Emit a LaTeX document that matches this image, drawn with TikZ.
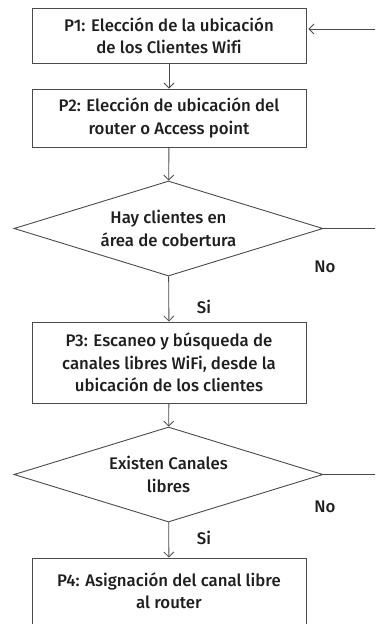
\documentclass[tikz,border=0pt]{standalone}
\usepackage{fontspec}
\setmainfont{Fira Sans Medium}[Ligatures={NoCommon}]
\usetikzlibrary{arrows.meta,shapes.geometric}
\definecolor{ln}{HTML}{4A4A4A}
\definecolor{tx}{HTML}{1E1E1E}
\tikzset{
  stepbox/.style={draw=ln,line width=0.9pt,rectangle,minimum width=274pt,align=center,inner sep=0pt,text=tx,font=\fontsize{16.8}{22.5}\selectfont},
  decision/.style={draw=ln,line width=0.9pt,diamond,aspect=3.25,minimum width=309pt,minimum height=95pt,inner sep=0pt,align=center,text=tx,font=\fontsize{16.8}{22.5}\selectfont},
  flow/.style={draw=ln,line width=0.9pt,-{Straight Barb[length=5pt,width=10pt,line width=0.8pt]}},
  plain/.style={draw=ln,line width=0.9pt},
  lab/.style={text=tx,font=\fontsize{16.8}{18}\selectfont,inner sep=0pt}
}
\begin{document}
\begin{tikzpicture}[x=1pt,y=-1pt]
\useasboundingbox (0,0) rectangle (375,624);
\clip (0,0) rectangle (375,624);
\node[stepbox,minimum height=55pt] (p1) at (169,35.5) {P1: Elección de la ubicación\\de los Clientes Wifi};
\node[stepbox,minimum height=58pt] (p2) at (169,118) {P2: Elección de ubicación del\\router o Access point};
\node[decision] (d1) at (168.5,228.5) {Hay clientes en\\área de cobertura};
\node[stepbox,minimum height=81pt] (p3) at (169,362.5) {P3: Escaneo y búsqueda de\\canales libres WiFi, desde la\\ubicación de los clientes};
\node[decision] (d2) at (168.5,474.5) {Existen Canales\\libres};
\node[stepbox,minimum height=78pt] (p4) at (169,597) {P4: Asignación del canal libre\\al router\\[-10pt]};
\coordinate (in1) at (376,29);
\coordinate (out1) at (376,228.5);
\coordinate (out2) at (376,474.5);
\node[lab] (no1) at (325,267) {No};
\node[lab] (si1) at (204,307) {Si};
\node[lab] (no2) at (325,507) {No};
\node[lab] (si2) at (204,538) {Si};
\draw[flow] (p1) -- (p2);
\draw[flow] (p2) -- (d1);
\draw[flow] (d1) -- (p3);
\draw[flow] (p3) -- (d2);
\draw[flow] (d2) -- (p4);
\draw[plain] (d1.east) -- (out1);
\draw[plain] (d2.east) -- (out2);
\draw[flow,shorten >=2pt] (in1) -- (p1.east |- in1);
\end{tikzpicture}
\end{document}
